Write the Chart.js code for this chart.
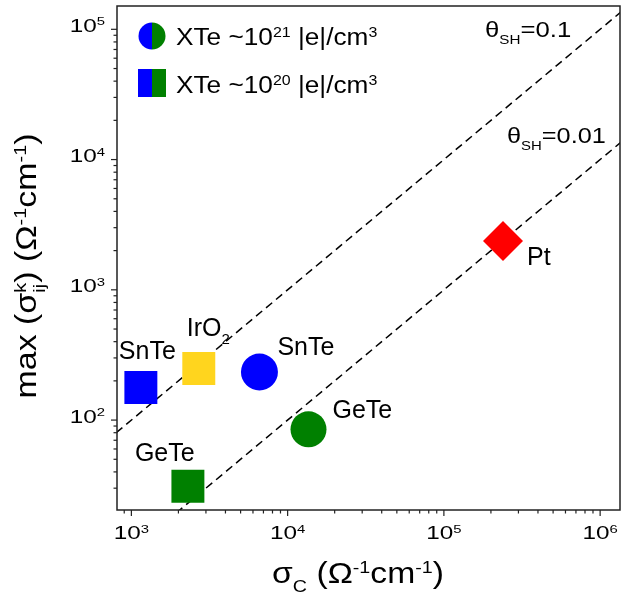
<!DOCTYPE html>
<html>
<head>
<meta charset="utf-8">
<script src="https://cdn.jsdelivr.net/npm/chart.js@4.4.1/dist/chart.umd.min.js"></script>
<style>
  body { margin: 0; background: #fff; }
</style>
</head>
<body>
<canvas id="myChart" width="623" height="599"></canvas>
<script>
// data
var names   = ['SnTe', 'IrO2', 'GeTe', 'SnTe', 'GeTe', 'Pt'];
var sigmaC  = [1150, 2700, 2300, 6600, 13600, 239000];   // x, Ohm^-1 cm^-1
var sigmaSH = [178, 249, 31, 234, 85, 2370];             // y, Ohm^-1 cm^-1

// theta_SH reference lines (two end points each)
var lineX    = [800, 1400000];
var theta01  = [80, 140000];
var theta001 = [8, 14000];

var xMajor = [1e3, 1e4, 1e5, 1e6];
var xMajorExp = ['3', '4', '5', '6'];
var yMajor = [1e2, 1e3, 1e4, 1e5];
var yMajorExp = ['2', '3', '4', '5'];

var FONT = '"Liberation Sans", Arial, Helvetica, sans-serif';

function logTicks(min, max) {
    var out = [];
    for (var e = Math.floor(Math.log10(min)); e <= Math.ceil(Math.log10(max)); e++) {
        for (var m = 1; m < 10; m++) {
            var v = m * Math.pow(10, e);
            if (v >= min && v <= max) out.push({ value: v, major: m === 1 });
        }
    }
    return out;
}

function expFor(value, majors, exps) {
    for (var i = 0; i < majors.length; i++) {
        if (Math.abs(value / majors[i] - 1) < 1e-6) return exps[i];
    }
    return null;
}

// rich text: parts are [kind, text, text2]
function partWidth(ctx, p, size) {
    if (p[0] === 'n') { ctx.font = size + 'px ' + FONT; return ctx.measureText(p[1]).width; }
    ctx.font = Math.round(size * 0.6) + 'px ' + FONT;
    if (p[0] === 'ss') return Math.max(ctx.measureText(p[1]).width, ctx.measureText(p[2]).width);
    return ctx.measureText(p[1]).width;
}

function drawRich(ctx, parts, x, y, size, align, sx) {
    ctx.save();
    ctx.translate(x, y);
    ctx.scale(sx || 1, 1);
    ctx.fillStyle = '#000';
    ctx.textBaseline = 'alphabetic';
    ctx.textAlign = 'left';
    var w = 0;
    parts.forEach(function(p) { w += partWidth(ctx, p, size); });
    var cx = align === 'center' ? -w / 2 : (align === 'right' ? -w : 0);
    var small = Math.round(size * 0.6);
    parts.forEach(function(p) {
        var pw = partWidth(ctx, p, size);
        if (p[0] === 'n') {
            ctx.font = size + 'px ' + FONT;
            ctx.fillText(p[1], cx, 0);
        } else if (p[0] === 'sup') {
            ctx.font = small + 'px ' + FONT;
            ctx.fillText(p[1], cx, -size * 0.36);
        } else if (p[0] === 'sub') {
            ctx.font = small + 'px ' + FONT;
            ctx.fillText(p[1], cx, size * 0.3);
        } else if (p[0] === 'ss') {
            ctx.font = small + 'px ' + FONT;
            ctx.fillText(p[1], cx, -size * 0.36);
            ctx.fillText(p[2], cx, size * 0.3);
        }
        cx += pw;
    });
    ctx.restore();
}

var extras = {
    id: 'extras',
    afterDraw: function(chart) {
        var ctx = chart.ctx;
        var a = chart.chartArea;
        var xs = chart.scales.x, ys = chart.scales.y;

        // frame
        ctx.save();
        ctx.strokeStyle = '#222';
        ctx.lineWidth = 1.5;
        ctx.strokeRect(a.left, a.top, a.right - a.left, a.bottom - a.top);

        // tick marks pointing out, labels on the decades
        ctx.lineWidth = 1.2;
        xs.ticks.forEach(function(t) {
            var px = xs.getPixelForValue(t.value);
            var len = t.major ? 6 : 3.5;
            ctx.beginPath(); ctx.moveTo(px, a.bottom); ctx.lineTo(px, a.bottom + len); ctx.stroke();
            var e = expFor(t.value, xMajor, xMajorExp);
            if (e) drawRich(ctx, [['n', '10'], ['sup', e]], px, a.bottom + 29, 18, 'center', 1.35);
        });
        ys.ticks.forEach(function(t) {
            var py = ys.getPixelForValue(t.value);
            var len = t.major ? 6 : 3.5;
            ctx.beginPath(); ctx.moveTo(a.left, py); ctx.lineTo(a.left - len, py); ctx.stroke();
            var e = expFor(t.value, yMajor, yMajorExp);
            if (e) drawRich(ctx, [['n', '10'], ['sup', e]], a.left - 12, py + 2.5, 18, 'right', 1.35);
        });
        ctx.restore();

        // legend
        ctx.save();
        var lx = a.left + 35, ly1 = a.top + 30, ly2 = a.top + 77;
        ctx.fillStyle = '#0000ff';
        ctx.beginPath(); ctx.arc(lx, ly1, 13.5, Math.PI / 2, Math.PI * 1.5); ctx.fill();
        ctx.fillStyle = '#008000';
        ctx.beginPath(); ctx.arc(lx, ly1, 13.5, -Math.PI / 2, Math.PI / 2); ctx.fill();
        ctx.fillStyle = '#0000ff';
        ctx.fillRect(lx - 14, ly2 - 14, 14, 28);
        ctx.fillStyle = '#008000';
        ctx.fillRect(lx, ly2 - 14, 14, 28);
        ctx.restore();
        drawRich(ctx, [['n', 'XTe ~10'], ['sup', '21'], ['n', ' |e|/cm'], ['sup', '3']], lx + 24, ly1 + 9, 23, 'left', 1.14);
        drawRich(ctx, [['n', 'XTe ~10'], ['sup', '20'], ['n', ' |e|/cm'], ['sup', '3']], lx + 24, ly2 + 10, 23, 'left', 1.14);

        // theta labels
        drawRich(ctx, [['n', 'θ'], ['sub', 'SH'], ['n', '=0.1']], 485, 37, 22, 'left', 1.17);
        drawRich(ctx, [['n', 'θ'], ['sub', 'SH'], ['n', '=0.01']], 507, 143, 22, 'left', 1.15);

        // point labels, offset from their markers
        var offs = [[-22, -28], [-12, -32], [-53, -25], [18, -17], [24, -11], [24, 24]];
        for (var i = 0; i < names.length; i++) {
            var px = xs.getPixelForValue(sigmaC[i]);
            var py = ys.getPixelForValue(sigmaSH[i]);
            var parts = names[i] === 'IrO2' ? [['n', 'IrO'], ['sub', '2']] : [['n', names[i]]];
            drawRich(ctx, parts, px + offs[i][0], py + offs[i][1], 25, 'left', 1);
        }

        // axis titles
        drawRich(ctx, [['n', 'σ'], ['sub', 'C'], ['n', ' (Ω'], ['sup', '-1'], ['n', 'cm'], ['sup', '-1'], ['n', ')']],
            358, 583, 29, 'center', 1.16);
        ctx.save();
        ctx.translate(36, 266);
        ctx.rotate(-Math.PI / 2);
        drawRich(ctx, [['n', 'max (σ'], ['ss', 'k', 'ij'], ['n', ') (Ω'], ['sup', '-1'], ['n', 'cm'], ['sup', '-1'], ['n', ')']],
            0, 0, 29, 'center', 1.17);
        ctx.restore();
    }
};

var pointStyles = ['rect', 'rect', 'rect', 'circle', 'circle', 'rectRot'];
var pointColors = ['#0000ff', '#ffd51e', '#008000', '#0000ff', '#008000', '#ff0000'];
var pointRadii  = [23.3, 23.3, 23.3, 18.5, 18, 20];

var datasets = [
    { label: 'θSH=0.1', data: lineX.map(function(x, i) { return { x: x, y: theta01[i] }; }),
      showLine: true, borderColor: '#000', borderWidth: 1.5, borderDash: [8, 5], pointRadius: 0, order: 2 },
    { label: 'θSH=0.01', data: lineX.map(function(x, i) { return { x: x, y: theta001[i] }; }),
      showLine: true, borderColor: '#000', borderWidth: 1.5, borderDash: [8, 5], pointRadius: 0, order: 2 }
];
names.forEach(function(n, i) {
    datasets.push({
        label: n,
        data: [{ x: sigmaC[i], y: sigmaSH[i] }],
        pointStyle: pointStyles[i],
        pointRadius: pointRadii[i],
        pointHoverRadius: pointRadii[i],
        backgroundColor: pointColors[i],
        borderWidth: 0,
        order: 1
    });
});

var ctx = document.getElementById('myChart').getContext('2d');
var myChart = new Chart(ctx, {
    type: 'scatter',
    data: { datasets: datasets },
    options: {
        responsive: false,
        animation: false,
        layout: { autoPadding: false, padding: { top: 6, right: 3, left: 0, bottom: 0 } },
        plugins: { legend: { display: false }, tooltip: { enabled: false } },
        scales: {
            x: {
                type: 'logarithmic',
                min: 809, max: 1340000,
                grid: { display: false, drawTicks: false },
                border: { display: false },
                afterBuildTicks: function(s) { s.ticks = logTicks(809, 1340000); },
                afterFit: function(s) { s.height = 89; },
                ticks: { display: false, autoSkip: false }
            },
            y: {
                type: 'logarithmic',
                min: 20.4, max: 151000,
                grid: { display: false, drawTicks: false },
                border: { display: false },
                afterBuildTicks: function(s) { s.ticks = logTicks(20.4, 151000); },
                afterFit: function(s) { s.width = 117; },
                ticks: { display: false, autoSkip: false }
            }
        }
    },
    plugins: [extras]
});
</script>
</body>
</html>
